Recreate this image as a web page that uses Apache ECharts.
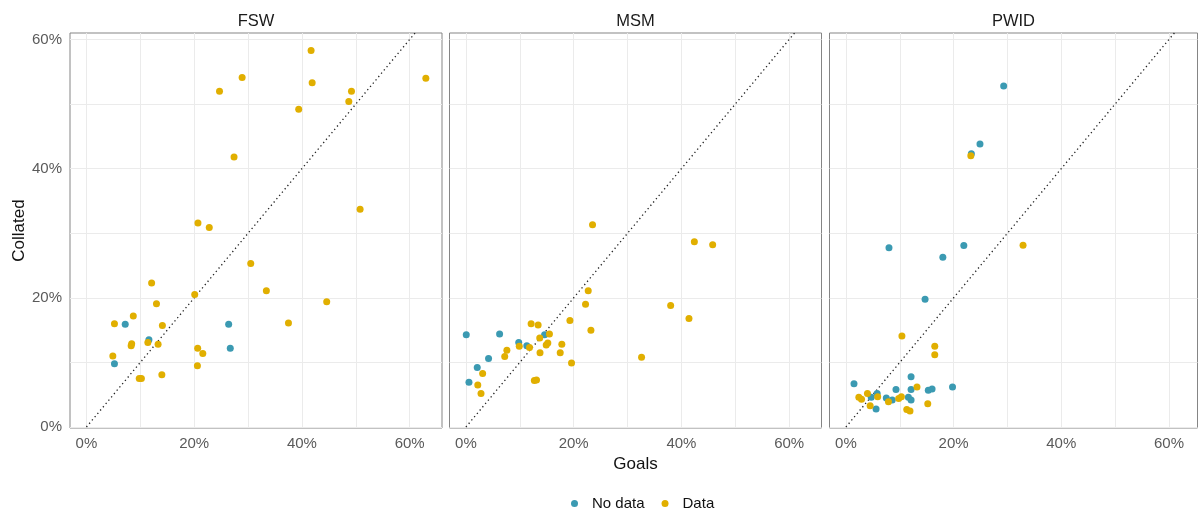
<!DOCTYPE html>
<html>
<head>
<meta charset="utf-8">
<script src="https://cdn.jsdelivr.net/npm/echarts@6/dist/echarts.min.js"></script>
<style>
  html, body { margin: 0; padding: 0; background: #ffffff; }
  #chart { width: 1198px; height: 512px; }
</style>
</head>
<body>
<div id="chart"></div>
<script>
// Facet titles and axis ticks
const panels = ['FSW', 'MSM', 'PWID'];
const labelTicks = [0, 20, 40, 60];
const gridTicks = [0, 10, 20, 30, 40, 50, 60];
const seriesNames = ['No data', 'Data'];

// Points as [goals %, collated %]
const fswNoData = [
  [7.2, 15.9], [26.4, 15.9], [11.6, 13.5], [26.7, 12.2], [5.2, 9.8]
];
const fswData = [
  [41.7, 58.3], [28.9, 54.1], [24.7, 52.0], [41.9, 53.3], [49.2, 52.0],
  [48.7, 50.4], [39.4, 49.2], [63.0, 54.0], [27.4, 41.8], [50.8, 33.7],
  [20.7, 31.6], [22.8, 30.9], [30.5, 25.3], [33.4, 21.1], [44.6, 19.4],
  [37.5, 16.1], [12.1, 22.3], [13.0, 19.1], [20.1, 20.5], [8.7, 17.2],
  [5.2, 16.0], [14.1, 15.7], [8.4, 12.9], [8.3, 12.6], [11.4, 13.1],
  [13.3, 12.8], [20.65, 12.2], [21.6, 11.4], [4.9, 11.0], [20.6, 9.5],
  [9.8, 7.5], [10.2, 7.5], [14.0, 8.1]
];
const msmNoData = [
  [0.06, 14.3], [6.25, 14.4], [9.8, 13.1], [11.3, 12.6], [14.6, 14.3],
  [4.2, 10.6], [2.1, 9.2], [0.56, 6.95]
];
const msmData = [
  [23.5, 31.3], [42.4, 28.7], [45.8, 28.2], [22.7, 21.1], [22.2, 19.0],
  [38.0, 18.8], [41.4, 16.8], [19.3, 16.5], [23.2, 15.0], [12.1, 16.0],
  [13.4, 15.8], [15.5, 14.4], [13.7, 13.8], [15.2, 13.0], [14.9, 12.7],
  [17.8, 12.8], [17.5, 11.5], [13.75, 11.5], [11.8, 12.3], [9.9, 12.5],
  [7.6, 11.9], [7.2, 10.9], [32.6, 10.8], [19.6, 9.9], [3.1, 8.3],
  [2.2, 6.5], [2.8, 5.2], [12.7, 7.2], [13.1, 7.3]
];
const pwidNoData = [
  [29.3, 52.8], [24.9, 43.8], [23.3, 42.3], [8.0, 27.75], [21.9, 28.1],
  [18.0, 26.3], [14.7, 19.8], [1.5, 6.7], [12.1, 7.8], [9.3, 5.8],
  [12.1, 5.8], [15.3, 5.7], [16.0, 5.9], [19.8, 6.2], [5.8, 5.2],
  [4.7, 4.6], [7.5, 4.5], [8.6, 4.2], [11.6, 4.6], [12.1, 4.2], [5.6, 2.8]
];
const pwidData = [
  [23.2, 42.0], [32.9, 28.15], [10.4, 14.1], [16.5, 12.5], [16.5, 11.2],
  [13.2, 6.2], [2.4, 4.6], [2.9, 4.3], [4.0, 5.2], [5.9, 4.7],
  [4.5, 3.3], [7.9, 3.9], [9.8, 4.4], [10.3, 4.7], [11.3, 2.7],
  [11.9, 2.5], [15.2, 3.6]
];

const noDataByPanel = [fswNoData, msmNoData, pwidNoData];
const dataByPanel = [fswData, msmData, pwidData];

const COLOR_NODATA = '#3B9AB2';
const COLOR_DATA = '#E1AF00';
const FONT = '"Liberation Sans", Arial, Helvetica, sans-serif';

// Panel boxes in pixels
const panelTop = 33;
const panelHeight = 395;
const panelBoxes = [
  { left: 70, width: 372, xMax: 66 },
  { left: 449.5, width: 372, xMax: 66 },
  { left: 829.5, width: 368, xMax: 65.3 }
];
const xMin = -3.05;

const grids = [], xAxes = [], yAxes = [], series = [], graphics = [];

panelBoxes.forEach((box, i) => {
  grids.push({
    left: box.left, top: panelTop, width: box.width, height: panelHeight,
    show: true, borderColor: '#858585', borderWidth: 1, backgroundColor: 'transparent',
    containLabel: false
  });
  xAxes.push({
    gridIndex: i, type: 'value', min: xMin, max: box.xMax,
    axisLine: { show: false },
    axisTick: { show: false, customValues: gridTicks },
    axisLabel: {
      customValues: labelTicks, formatter: '{value}%', margin: 8,
      fontSize: 15, color: '#5a5a5a', fontFamily: FONT
    },
    splitLine: { show: true, lineStyle: { color: '#ebebeb', width: 1 } },
    name: i === 1 ? 'Goals' : '',
    nameLocation: 'middle', nameGap: 22,
    nameTextStyle: { fontSize: 17, color: '#111111', fontFamily: FONT }
  });
  yAxes.push({
    gridIndex: i, type: 'value', min: -0.15, max: 61,
    axisLine: { show: false },
    axisTick: { show: false, customValues: gridTicks },
    axisLabel: {
      show: i === 0, customValues: labelTicks, formatter: '{value}%', margin: 8,
      fontSize: 15, color: '#5a5a5a', fontFamily: FONT
    },
    splitLine: { show: true, lineStyle: { color: '#ebebeb', width: 1 } },
    name: i === 0 ? 'Collated' : '',
    nameLocation: 'middle', nameGap: 42, nameRotate: 90,
    nameTextStyle: { fontSize: 17, color: '#111111', fontFamily: FONT }
  });

  // Identity reference line y = x
  series.push({
    type: 'line', xAxisIndex: i, yAxisIndex: i, silent: true,
    data: [[0, 0], [70, 70]], showSymbol: false, clip: true,
    lineStyle: { color: '#222222', width: 1.3, type: [1.3, 3] },
    z: 1
  });
  series.push({
    name: seriesNames[0], type: 'scatter', xAxisIndex: i, yAxisIndex: i,
    data: noDataByPanel[i], symbolSize: 7,
    itemStyle: { color: COLOR_NODATA, opacity: 1 }, z: 2
  });
  series.push({
    name: seriesNames[1], type: 'scatter', xAxisIndex: i, yAxisIndex: i,
    data: dataByPanel[i], symbolSize: 7,
    itemStyle: { color: COLOR_DATA, opacity: 1 }, z: 3
  });

  // Facet strip title
  graphics.push({
    type: 'text', x: box.left + box.width / 2, y: 21,
    style: {
      text: panels[i], fill: '#1a1a1a', font: '16.5px ' + FONT,
      textAlign: 'center', textVerticalAlign: 'middle'
    }
  });
});

const chart = echarts.init(document.getElementById('chart'), null, { renderer: 'canvas' });
chart.setOption({
  animation: false,
  backgroundColor: '#ffffff',
  textStyle: { fontFamily: FONT },
  grid: grids,
  xAxis: xAxes,
  yAxis: yAxes,
  series: series,
  graphic: graphics,
  legend: {
    data: seriesNames.map(n => ({ name: n, icon: 'circle' })),
    left: 566, top: 491,
    itemWidth: 7, itemHeight: 7, itemGap: 17,
    textStyle: { fontSize: 15, color: '#111111', fontFamily: FONT, padding: [0, 0, 0, 9] }
  }
});
</script>
</body>
</html>
